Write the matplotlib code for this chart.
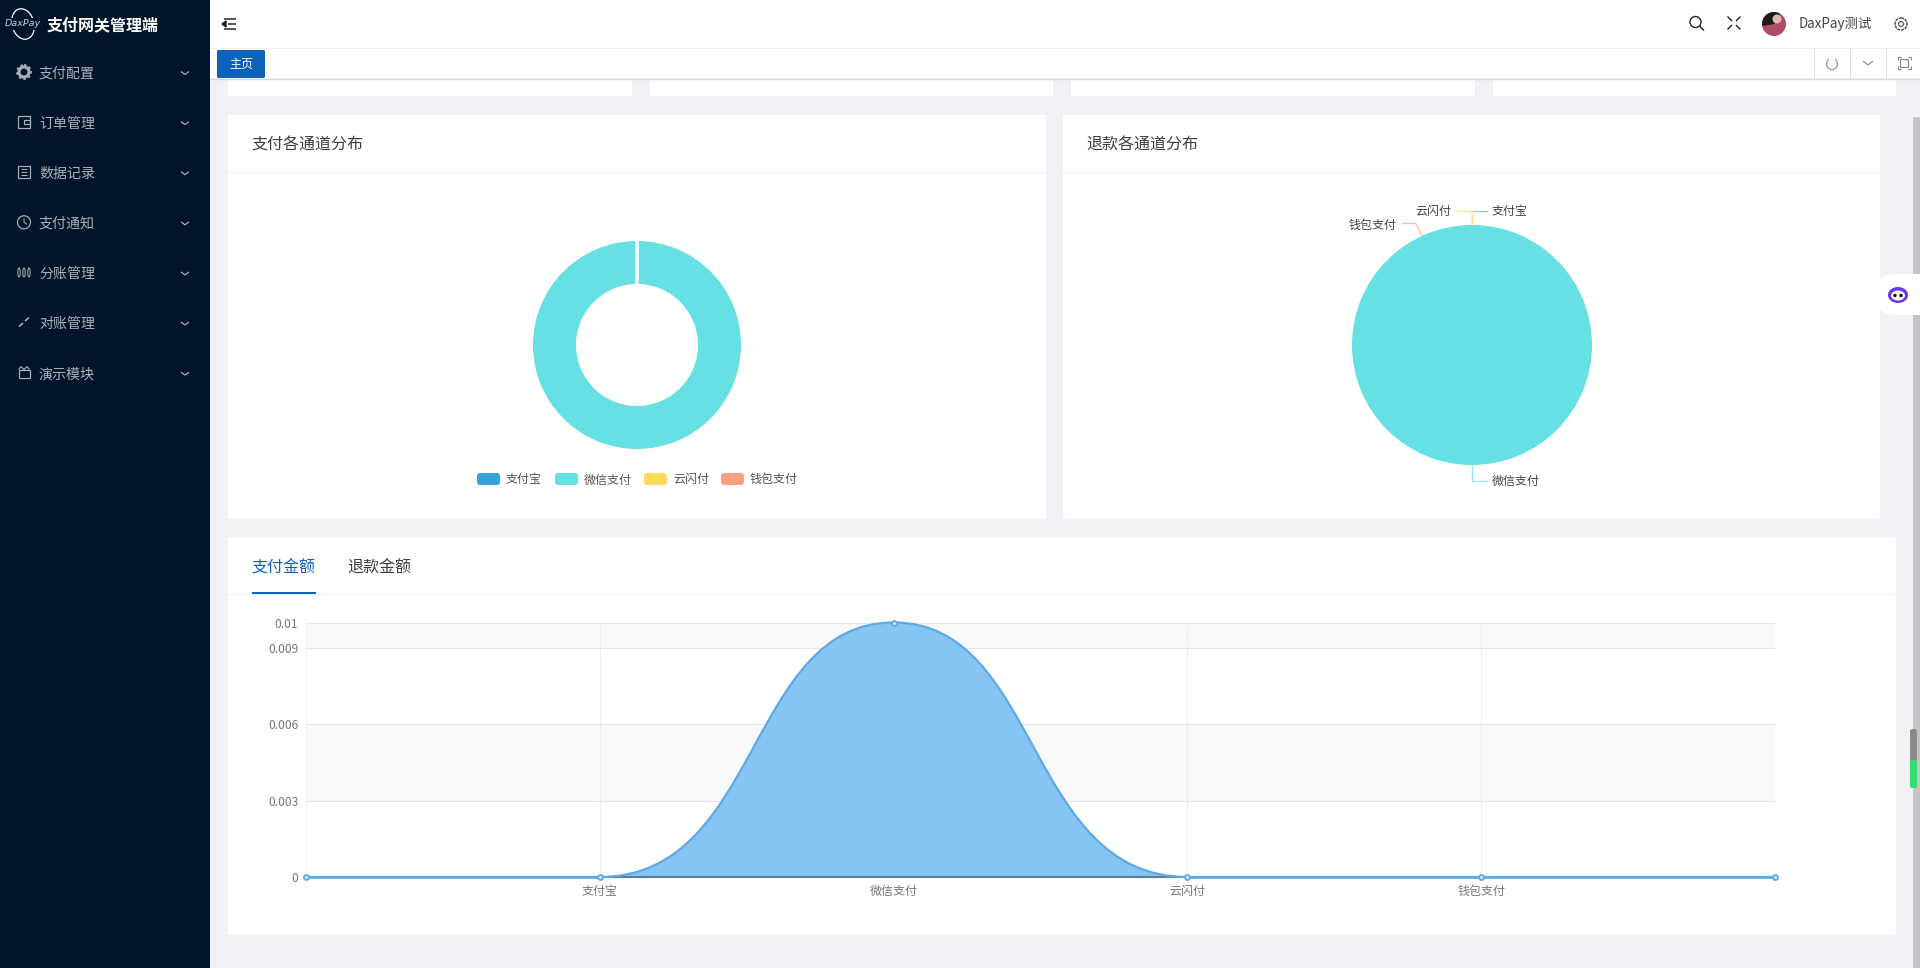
import matplotlib
matplotlib.use("Agg")
import matplotlib.pyplot as plt
from matplotlib.patches import Rectangle, Circle, FancyBboxPatch, Arc, PathPatch, Wedge, Ellipse
from matplotlib.path import Path
import numpy as np

plt.rcParams['font.family'] = ['Noto Sans CJK SC', 'DejaVu Sans']

# ---------- data ----------
channels = ['支付宝', '微信支付', '云闪付', '钱包支付']
pay_share = [0, 0.01, 0, 0]
refund_share = [0, 1, 0, 0]
area_categories = ['', '支付宝', '微信支付', '云闪付', '钱包支付', '']
area_values = [0, 0, 0.01, 0, 0, 0]
y_ticks = [0, 0.003, 0.006, 0.009, 0.01]
y_tick_labels = ['0', '0.003', '0.006', '0.009', '0.01']
menu_items = ['支付配置', '订单管理', '数据记录', '支付通知', '分账管理', '对账管理', '演示模块']

# ---------- colours ----------
pie_colors = ['#37a2da', '#67e0e3', '#ffdb5c', '#ff9f7f']
SIDE = '#001529'
BG = '#f0f2f5'
W, H = 1920, 968
px = 0.72  # css pixel -> pt at dpi 100

fig = plt.figure(figsize=(W / 100, H / 100), dpi=100, facecolor=BG)


def axes_px(x0, y0, x1, y1, **kw):
    return fig.add_axes([x0 / W, 1 - y1 / H, (x1 - x0) / W, (y1 - y0) / H], **kw)


bg = fig.add_axes([0, 0, 1, 1], zorder=0)
bg.set_xlim(0, W)
bg.set_ylim(H, 0)
bg.axis('off')
top = fig.add_axes([0, 0, 1, 1], zorder=5)
top.set_xlim(0, W)
top.set_ylim(H, 0)
top.axis('off')
top.patch.set_alpha(0)


def rect(ax, x0, y0, x1, y1, c, **kw):
    ax.add_patch(Rectangle((x0, y0), x1 - x0, y1 - y0, facecolor=c, edgecolor='none', **kw))


def line(ax, xs, ys, c, lw=1.0, **kw):
    ax.plot(xs, ys, color=c, lw=lw * px, solid_capstyle=kw.pop('cap', 'butt'), **kw)


def text(ax, x, y, s, size, c, ha='left', va='center', **kw):
    ax.text(x, y, s, fontsize=size * px, color=c, ha=ha, va=va, **kw)


# ---------- shell ----------
rect(bg, 0, 0, 210, H, SIDE)
rect(bg, 210, 0, W, 47, 'white')
rect(bg, 210, 47, W, 78, 'white')
line(bg, [210, W], [47.5, 47.5], '#eeeeee', 1)
line(bg, [210, W], [79, 79], '#d9d9d9', 1.4)
for x0, x1 in [(228, 632), (650, 1053), (1071, 1475), (1493, 1896)]:
    rect(bg, x0, 80, x1, 96, 'white')
rect(bg, 228, 115, 1046, 519, 'white')
rect(bg, 1063, 115, 1880, 519, 'white')
rect(bg, 228, 537, 1896, 935, 'white')
line(bg, [228, 1046], [171.5, 171.5], '#efeff5', 1)
line(bg, [1063, 1880], [171.5, 171.5], '#efeff5', 1)
line(bg, [228, 1896], [593.5, 593.5], '#efeff5', 1)

# scrollbar and floating widgets
rect(bg, 1913, 117, W, H, '#c3c4c6')
top.add_patch(FancyBboxPatch((1910, 729), 7, 59, boxstyle='round,pad=0,rounding_size=2.5', fc='#8b8b8b', ec='none'))
top.add_patch(FancyBboxPatch((1910, 760), 7, 28, boxstyle='round,pad=0,rounding_size=2.5', fc='#33dd70', ec='none'))
top.add_patch(FancyBboxPatch((1876, 274), 62, 41, boxstyle='round,pad=0,rounding_size=19',
                             fc='white', ec='none', clip_on=True))
top.add_patch(Ellipse((1898, 295), 20, 16, fc='#6a35e8', ec='none'))
top.add_patch(Ellipse((1898, 295.5), 14, 10, fc='white', ec='none'))
top.add_patch(Circle((1895, 295.5), 1.7, fc='#111111', ec='none'))
top.add_patch(Circle((1901, 295.5), 1.7, fc='#111111', ec='none'))

# sidebar
top.add_patch(Ellipse((23, 24), 22, 31, angle=-15, fill=False, ec='white', lw=0.9))
rect(top, 5, 18, 41, 30, SIDE)
text(top, 23, 24, 'DaxPay', 9.5, '#c6ccd4', ha='center', style='italic', family=['DejaVu Sans'])
text(top, 47, 25, '支付网关管理端', 16, 'white', weight='bold')
MC = '#aab1bb'
for i, name in enumerate(menu_items):
    y = 73 + 50.1 * i
    text(top, 39, y + 0.5, name, 14, MC)
    line(top, [181, 185, 189], [y - 1.5, y + 1.5, y - 1.5], MC, 1.2)
    if i == 0:
        top.add_patch(Circle((24, y - 1), 5, fc='none', ec=MC, lw=3 * px))
        top.add_patch(Circle((24, y - 1), 7, fc='none', ec=MC, lw=1.8 * px, ls=(0, (1.4, 1.4))))
    elif i == 1:
        top.add_patch(Rectangle((18, y - 7), 12, 12, fc='none', ec=MC, lw=1.2 * px))
        top.add_patch(Rectangle((24, y - 3), 6, 4, fc='none', ec=MC, lw=1.2 * px))
    elif i == 2:
        top.add_patch(Rectangle((18, y - 7), 12, 12, fc='none', ec=MC, lw=1.2 * px))
        for dy in (-4, -1, 2):
            line(top, [21, 27], [y + dy, y + dy], MC, 1)
    elif i == 3:
        top.add_patch(Circle((24, y - 1), 6.5, fc='none', ec=MC, lw=1.2 * px))
        line(top, [24, 24, 27], [y - 5, y - 1, y + 1], MC, 1)
    elif i == 4:
        for dx in (-5, 0, 5):
            top.add_patch(Ellipse((24 + dx, y - 1), 2.4, 9, fc='none', ec=MC, lw=1 * px))
    elif i == 5:
        line(top, [19, 23], [y + 3, y - 0.5], MC, 1.6)
        line(top, [25, 29], [y - 2.5, y - 6], MC, 1.6)
    else:
        top.add_patch(Rectangle((18.5, y - 4), 11, 8.5, fc='none', ec=MC, lw=1.2 * px))
        line(top, [18.5, 21, 24, 27, 29.5], [y - 4, y - 7, y - 4, y - 7, y - 4], MC, 1.1)

# header
for yy, x0 in [(19, 224), (24, 228), (29, 224)]:
    line(top, [x0, 236], [yy, yy], '#222222', 1.5)
top.fill([222, 226, 226], [24, 21, 27], color='#222222')
top.add_patch(Circle((1695.5, 22), 5.5, fc='none', ec='#222222', lw=1.4 * px))
line(top, [1699.5, 1704], [26, 30.5], '#222222', 1.5)
for sx, sy in [(-1, -1), (1, -1), (-1, 1), (1, 1)]:
    cx, cy = 1734 + sx * 5, 23 + sy * 5
    line(top, [cx - sx * 3, cx + sx * 1.5], [cy - sy * 3, cy + sy * 1.5], '#222222', 1.4)
top.add_patch(Circle((1774, 24), 12, fc='#b04a68', ec='none'))
top.add_patch(Wedge((1774, 24), 12, 170, 300, fc='#1e1a1c', ec='none'))
top.add_patch(Circle((1777, 19), 4.5, fc='#dcb8a8', ec='none'))
text(top, 1799, 24, 'DaxPay测试', 13.4, '#444444')
top.add_patch(Circle((1901, 24), 6, fc='none', ec='#444444', lw=1.4 * px, ls=(0, (2.2, 0.6))))
top.add_patch(Circle((1901, 24), 2.4, fc='none', ec='#444444', lw=1.1 * px))

# tab bar
top.add_patch(FancyBboxPatch((217, 50), 48, 28, boxstyle='round,pad=0,rounding_size=1.5', fc='#0f62bb', ec='none'))
text(top, 241, 64, '主页', 12, 'white', ha='center')
for x in (1813.5, 1849.5, 1885.5):
    line(top, [x, x], [48, 78], '#dedede', 1)
top.add_patch(Arc((1832, 64), 11, 11, theta1=-60, theta2=240, color='#999999', lw=0.9))
line(top, [1863, 1868, 1873], [61, 65, 61], '#888888', 1.2)
top.add_patch(Rectangle((1900, 59), 8, 8, fc='none', ec='#888888', lw=1.2 * px))
for sx, sy in [(-1, -1), (1, -1), (-1, 1), (1, 1)]:
    x, y = 1904 + sx * 6.5, 63 + sy * 6
    line(top, [x, x, x - sx * 3], [y - sy * 3, y, y], '#888888', 1.1)

# titles
TITLE = '#3d3d3d'
text(top, 251, 145.5, '支付各通道分布', 16, TITLE)
text(top, 1086, 145.5, '退款各通道分布', 16, TITLE)
text(top, 251, 568.5, '支付金额', 16, '#0f62bb')
text(top, 347, 568.5, '退款金额', 16, TITLE)
line(top, [252, 316], [592.5, 592.5], '#0f62bb', 2)

# ---------- donut ----------
ax = axes_px(637 - 104, 345 - 104, 637 + 104, 345 + 104, zorder=2)
wedges, _ = ax.pie(pay_share, colors=pie_colors, startangle=90, counterclock=False, radius=1.0,
                   wedgeprops=dict(width=(104 - 61) / 104, linewidth=0))
for w, v in zip(wedges, pay_share):
    if v == 0:
        w.set_edgecolor('white')
        w.set_linewidth(2.0)
        w.set_zorder(5)
ax.set_xlim(-1, 1)
ax.set_ylim(-1, 1)

# legend of the donut
for label, color, x in zip(channels, pie_colors, [477, 555, 644, 721]):
    top.add_patch(FancyBboxPatch((x, 473), 23, 12, boxstyle='round,pad=0,rounding_size=3', fc=color, ec='none'))
    text(top, x + 29, 480, label, 12, '#555555')

# ---------- pie ----------
ax = axes_px(1472 - 120, 345 - 120, 1472 + 120, 345 + 120, zorder=2)
ax.pie(refund_share, colors=pie_colors, startangle=90, counterclock=False, radius=1.0,
       wedgeprops=dict(linewidth=0))
ax.set_xlim(-1, 1)
ax.set_ylim(-1, 1)

LB = '#444444'
line(top, [1472, 1472, 1488], [225, 210.5, 210.5], '#8fc6ea', 1.3)
line(top, [1472, 1472, 1456], [225, 210.5, 210.5], '#ffe48f', 1.3)
line(top, [1422, 1416, 1402], [236, 223.5, 223.5], '#ffbba4', 1.3)
line(top, [1472, 1472, 1488], [465, 481, 481], '#98e8ea', 1.3)
text(top, 1491.5, 211, channels[0], 12, LB)
text(top, 1451, 211, channels[2], 12, LB, ha='right')
text(top, 1397, 225, channels[3], 12, LB, ha='right')
text(top, 1491.5, 481, channels[1], 12, LB)

# ---------- area ----------
ax = axes_px(306, 622.5, 1775, 877, zorder=2)
xs = np.arange(len(area_categories))
ax.set_xlim(xs[0], xs[-1])
ax.set_ylim(0, max(area_values))
for spine in ax.spines.values():
    spine.set_visible(False)
ax.axhspan(y_ticks[1], y_ticks[2], color='#f9f9fa', lw=0, zorder=0)
ax.axhspan(y_ticks[3], y_ticks[4], color='#f9f9fa', lw=0, zorder=0)
ax.set_xticks(xs)
ax.set_xticklabels(area_categories, fontsize=12 * px, color='#777777')
ax.set_yticks(y_ticks)
ax.set_yticklabels(y_tick_labels, fontsize=12 * px, color='#777777')
ax.tick_params(length=0)
ax.tick_params(axis='x', pad=5.5)
ax.tick_params(axis='y', pad=5.5)
ax.xaxis.grid(True, color='#eeeff2', lw=0.8, zorder=1)
ax.yaxis.grid(True, color='#e4e6ea', lw=0.8, zorder=1)
ax.set_axisbelow(True)

# smooth curve through the data: each segment leaves the lower point with a longer handle
verts = [(xs[0], area_values[0])]
codes = [Path.MOVETO]
for i in range(len(xs) - 1):
    a, b = area_values[i], area_values[i + 1]
    h0 = 0.55 if a < b else 0.5
    h1 = 0.55 if b < a else 0.5
    verts += [(xs[i] + h0, a), (xs[i + 1] - h1, b), (xs[i + 1], b)]
    codes += [Path.CURVE4] * 3
fill_path = Path(verts + [(xs[-1], 0), (xs[0], 0), (xs[0], 0)], codes + [Path.LINETO, Path.LINETO, Path.CLOSEPOLY])
ax.add_patch(PathPatch(fill_path, fc='#80c2f3', ec='none', alpha=0.95, zorder=2))
ax.plot([xs[1], xs[3]], [0, 0], color='#5b7f99', lw=1.5, zorder=3, clip_on=False)
ax.add_patch(PathPatch(Path(verts, codes), fc='none', ec='#5caae6', lw=1.6, zorder=4, clip_on=False))
ax.plot(xs[3:], np.array(area_values)[3:], color='#5caae6', lw=1.9, zorder=4, clip_on=False)
ax.plot(xs[:2], np.array(area_values)[:2], color='#5caae6', lw=1.9, zorder=4, clip_on=False)
ax.plot(xs, area_values, ls='none', marker='o', ms=3.6, mfc='#cfe8fb', mec='#5caae6', mew=1.3, zorder=5, clip_on=False)
ax.patch.set_alpha(0)

fig.savefig('out.png', dpi=100, facecolor=BG)
